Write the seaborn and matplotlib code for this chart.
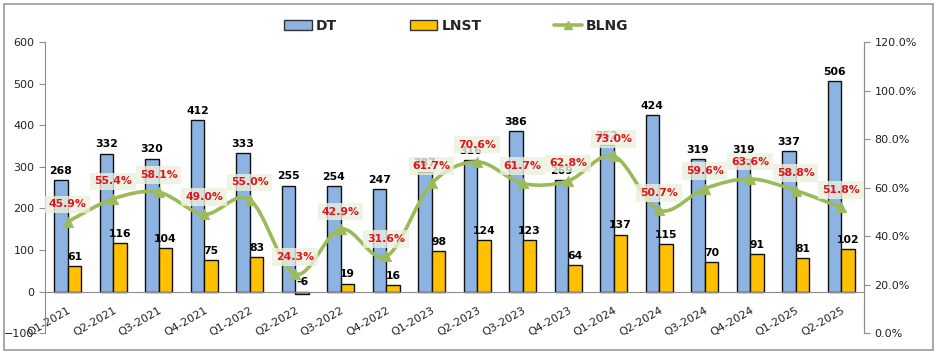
import numpy as np
import pandas as pd
import matplotlib
matplotlib.use("Agg")
import matplotlib.pyplot as plt
from matplotlib.path import Path
from matplotlib.patches import PathPatch, Patch, Rectangle
from matplotlib.lines import Line2D
import seaborn as sns

quarters = ["Q1-2021", "Q2-2021", "Q3-2021", "Q4-2021", "Q1-2022", "Q2-2022",
            "Q3-2022", "Q4-2022", "Q1-2023", "Q2-2023", "Q3-2023", "Q4-2023",
            "Q1-2024", "Q2-2024", "Q3-2024", "Q4-2024", "Q1-2025", "Q2-2025"]
dt = [268, 332, 320, 412, 333, 255, 254, 247, 287, 316, 386, 269, 352, 424, 319, 319, 337, 506]
lnst = [61, 116, 104, 75, 83, -6, 19, 16, 98, 124, 123, 64, 137, 115, 70, 91, 81, 102]
blng = [45.9, 55.4, 58.1, 49.0, 55.0, 24.3, 42.9, 31.6, 61.7, 70.6, 61.7, 62.8,
        73.0, 50.7, 59.6, 63.6, 58.8, 51.8]

blue = "#8DB3E2"
yellow = "#FFC000"
green = "#9BBB59"
red = "#E0141C"

sns.set_style("white")
plt.rcParams["font.family"] = ["DejaVu Sans"]

df = pd.DataFrame({"quarter": quarters * 2,
                   "value": dt + lnst,
                   "series": ["DT"] * len(dt) + ["LNST"] * len(lnst)})

fig = plt.figure(figsize=(9.37, 3.57), dpi=100)
ax = fig.add_axes([0.048, 0.067, 0.874, 0.815])

sns.barplot(data=df, x="quarter", y="value", hue="series", order=quarters,
            palette={"DT": blue, "LNST": yellow}, saturation=1, width=0.6,
            edgecolor="#111111", linewidth=1, legend=False, ax=ax)
ax.set_ylim(-100, 600)
ax.set_xlim(-0.5, len(quarters) - 0.5)
ax.set_yticks(np.arange(-100, 601, 100))
ax.set_xlabel("")
ax.set_ylabel("")

# bar value labels
for i, v in enumerate(dt):
    ax.annotate(str(v), (i - 0.15, max(v, 0)), xytext=(0, 3), textcoords="offset points",
                ha="center", va="bottom", fontsize=7.8, fontweight="bold", color="black")
for i, v in enumerate(lnst):
    ax.annotate(str(v), (i + 0.15, max(v, 0)), xytext=(0, 3), textcoords="offset points",
                ha="center", va="bottom", fontsize=7.8, fontweight="bold", color="black")

# x axis at zero, ticks between categories
ax.spines["bottom"].set_position(("data", 0))
ax.spines["top"].set_visible(False)
for s in ["bottom", "left", "right"]:
    ax.spines[s].set_color("#8c8c8c")
ax.tick_params(axis="x", which="major", length=0, pad=10)
ax.set_xticks(np.arange(len(quarters)) + 0.5, minor=True)
ax.tick_params(axis="x", which="minor", length=4, color="#8c8c8c", direction="out")
ax.set_xticklabels(quarters, rotation=30, ha="right", rotation_mode="anchor", fontsize=8,
                   color="#222222")
ax.tick_params(axis="y", length=4, color="#8c8c8c", labelsize=8, labelcolor="#222222")

# margin line on the right axis
ax2 = ax.twinx()
ax2.set_ylim(0, 120)
ax2.set_yticks(np.arange(0, 121, 20))
ax2.set_yticklabels([f"{t:.1f}%" for t in np.arange(0, 121, 20)])
ax2.tick_params(axis="y", length=4, color="#8c8c8c", labelsize=8, labelcolor="#222222")
for s in ["top", "bottom", "left"]:
    ax2.spines[s].set_visible(False)
ax2.spines["right"].set_color("#8c8c8c")

# smooth curve through the points (Catmull-Rom as cubic Bezier)
xs = np.arange(len(blng), dtype=float)
ys = np.array(blng, dtype=float)
pts = np.column_stack([xs, ys])
verts = [pts[0]]
codes = [Path.MOVETO]
for i in range(len(pts) - 1):
    p0 = pts[i - 1] if i > 0 else pts[i]
    p3 = pts[i + 2] if i + 2 < len(pts) else pts[i + 1]
    c1 = pts[i] + (pts[i + 1] - p0) / 6
    c2 = pts[i + 1] - (p3 - pts[i]) / 6
    verts += [c1, c2, pts[i + 1]]
    codes += [Path.CURVE4] * 3
ax2.add_patch(PathPatch(Path(verts, codes), facecolor="none", edgecolor=green, lw=2.6, zorder=3))
sns.scatterplot(x=xs, y=ys, marker="^", s=55, color=green, edgecolor=green, zorder=4,
                legend=False, ax=ax2)

for i, v in enumerate(blng):
    ax2.annotate(f"{v:.1f}%", (i, v), xytext=(0, 12.5), textcoords="offset points",
                 ha="center", va="center", fontsize=7.8, fontweight="bold", color=red,
                 bbox=dict(boxstyle="square,pad=0.35", facecolor="#EBF1DE", edgecolor="none",
                           alpha=0.8), zorder=6)

handles = [Patch(facecolor=blue, edgecolor="#333333", label="DT"),
           Patch(facecolor=yellow, edgecolor="#333333", label="LNST"),
           Line2D([0], [0], color=green, lw=2.6, marker="^", markersize=6, label="BLNG")]
fig.legend(handles=handles, loc="center", bbox_to_anchor=(0.487, 0.928), ncol=3, frameon=False,
           prop={"weight": "bold", "size": 10}, columnspacing=5.2, handlelength=2.0,
           handletextpad=0.3)

fig.patches.append(Rectangle((0.004, 0.02), 0.992, 0.97, transform=fig.transFigure,
                             fill=False, edgecolor="#9a9a9a", lw=1.2))

fig.savefig("out.png", dpi=100)
